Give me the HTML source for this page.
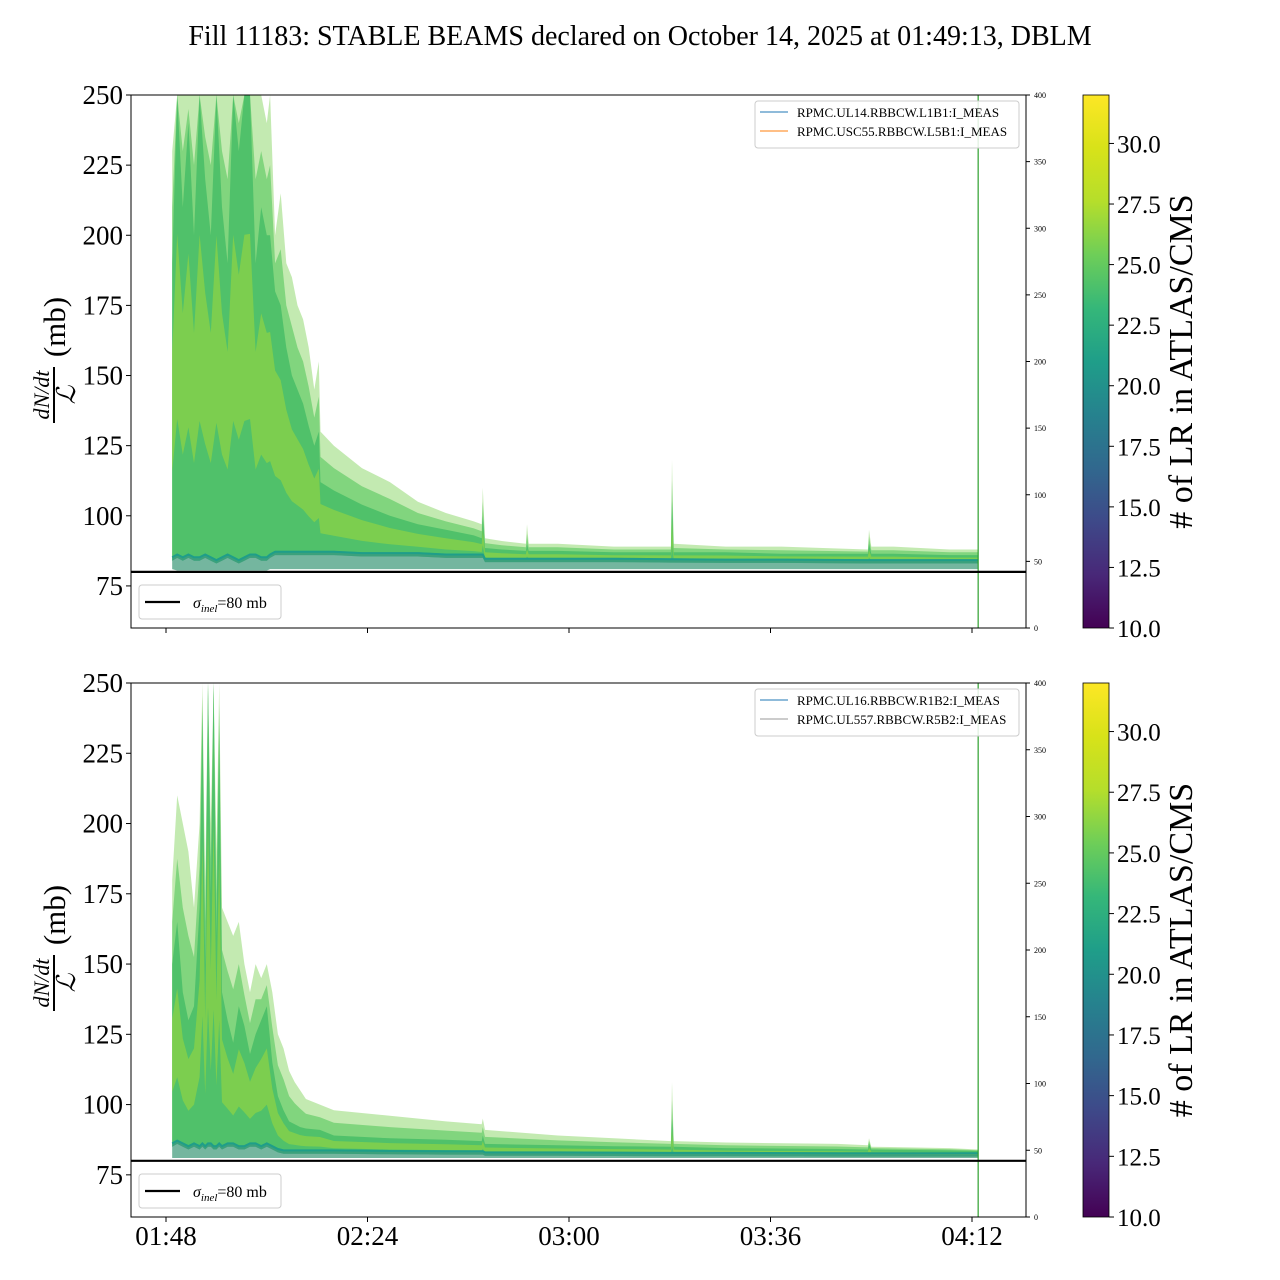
<!DOCTYPE html>
<html><head><meta charset="utf-8"><style>
html,body{margin:0;padding:0;background:#fff;}
svg{display:block;font-family:"Liberation Serif","DejaVu Serif",serif;}
</style></head><body>
<svg id="fig" width="1280" height="1280" viewBox="0 0 1280 1280" xmlns="http://www.w3.org/2000/svg">
<defs>
<linearGradient id="viridis" x1="0" y1="1" x2="0" y2="0">
<stop offset="0" stop-color="#440154"/><stop offset="0.1" stop-color="#482878"/><stop offset="0.2" stop-color="#3e4989"/><stop offset="0.3" stop-color="#31688e"/><stop offset="0.4" stop-color="#26828e"/><stop offset="0.5" stop-color="#1f9e89"/><stop offset="0.6" stop-color="#35b779"/><stop offset="0.7" stop-color="#6ece58"/><stop offset="0.8" stop-color="#b5de2b"/><stop offset="0.9" stop-color="#d8e219"/><stop offset="1" stop-color="#fde725"/>
</linearGradient>
</defs>
<text x="640" y="45" font-size="28" text-anchor="middle">Fill 11183: STABLE BEAMS declared on October 14, 2025 at 01:49:13, DBLM</text>
</svg>
<script>
// ---- data ----
const xTickLabels = ["01:48","02:24","03:00","03:36","04:12"];
const xTickMinutes = [0,36,72,108,144];
const yTicks = [75,100,125,150,175,200,225,250];
const rightTicks = [0,50,100,150,200,250,300,350,400];
const cbTicks = [10.0,12.5,15.0,17.5,20.0,22.5,25.0,27.5,30.0];
const sigmaInel = 80;
const stableMarkerMin = 145.1;

const tTop = [1.1,2,3,4,5,6,7,8,9,10,11,12,13,14,15,16,17,18,18.6,19.5,20.5,21.5,22.5,23.5,24.5,25.5,26.5,27.3,27.6,30,35,40,45,50,55,56.4,56.6,57,60,64.3,64.5,64.8,70,80,90.2,90.4,90.7,100,110,125.4,125.6,126,130,140,145.1];
const upTop = [230,250,250,250,250,250,250,250,250,250,250,250,250,250,250,250,250,240,250,200,215,190,185,175,170,160,145,155,130,125,117,112,105,101,98,97,110,92,91,90,97,90,90,89,89,120,90,89,89,88,95,89,89,88,88];
const hiTop = [190,250,210,240,200,250,220,200,250,210,190,250,230,250,250,190,210,200,200,180,175,160,150,145,140,132,125,130,112,109,104,100,97,95,93,92,100,88.5,88,87.5,90,87.5,87.5,87,87,105,87,87,86.5,86.5,90,86.5,86.5,86,86];
const loTop = [84,85,84,85,84,84,85,84,83,84,85,84,83,84,85,85,84,84,85,86,86,86,86,86,86,86,86,86,86,86,85.5,85.5,85.5,85,85,85,85,83.5,83.5,83.5,83.5,83.5,83.5,83.5,83.3,83.3,83.3,83.2,83.2,83,83,83,83,83,83];
const minTop = [81,80.5,80.5,80.5,80.5,80.5,80.5,80.5,80.5,80.5,80.5,80.5,80.5,80.5,80.5,80.5,80.5,80.5,81,81,81,81,81,81,81,81,81,81,81,81,81,81,81,81,81,81,81,81,81,81,81,81,81,81,81,81,81,81,81,81,81,81,81,81,81];

const tBot = [1.1,2,3,4,5,6,6.5,7,7.5,8,8.5,9,9.5,10,11,12,13,14,15,16,17,18,19,20,21,22,23,24,25,27.5,30,40,50,56.4,56.6,57,70,80,90.2,90.4,90.7,100,120,125.4,125.6,126,140,145.1];
const upBot = [180,210,200,190,170,200,250,180,250,200,250,190,250,170,165,160,165,150,140,150,145,150,140,125,120,112,108,105,102,100,98,96,94,93,95,91,89,88,87,108,87,86.5,86,85.5,88,85,84.5,84];
const hiBot = [150,165,140,130,135,170,240,150,250,175,250,160,235,140,130,122,135,128,118,125,130,135,115,103,98,94,93,92,91.5,91,89,88,87.5,87,89,86,85.5,85.2,85,95,85,84.5,84.2,84,86,84,83.7,83.5];
const loBot = [85,86,85,84,85,84,85,84,85,85,84,84,85,84,85,85,84,84,85,85,84,85,84,83,82.5,82.5,82.5,82.5,82.5,82.5,82.5,82.3,82.2,82.2,82.2,81.8,81.8,81.7,81.6,81.6,81.6,81.6,81.5,81.5,81.5,81.5,81.5,81.5];
const minBot = [81,81,81,81,81,81,81,81,81,81,81,81,81,81,81,81,81,81,81,81,81,81,81,81,81,81,81,81,81,81,81,81,81,81,81,81,81,81,81,81,81,81,81,81,81,81,81,81];

// ---- drawing ----
const NS = "http://www.w3.org/2000/svg";
const svg = document.getElementById("fig");
const AX_L = 131, AX_R = 1026;
const xOf = m => 166 + m * (201.5 / 36);
function mk(tag, attrs, parent) {
  const e = document.createElementNS(NS, tag);
  for (const k in attrs) e.setAttribute(k, attrs[k]);
  (parent || svg).appendChild(e);
  return e;
}
function bandPath(t, a, b, yOf) {
  let d = "";
  for (let i = 0; i < t.length; i++) d += (i ? "L" : "M") + xOf(t[i]).toFixed(1) + "," + yOf(a[i]).toFixed(1);
  for (let i = t.length - 1; i >= 0; i--) d += "L" + xOf(t[i]).toFixed(1) + "," + yOf(b[i]).toFixed(1);
  return d + "Z";
}
function linePath(t, a, yOf) {
  let d = "";
  for (let i = 0; i < t.length; i++) d += (i ? "L" : "M") + xOf(t[i]).toFixed(1) + "," + yOf(a[i]).toFixed(1);
  return d;
}

function drawPanel(top, bot, T, UP, HI, LO, MN, legendNames, legendColors, showXLabels, pid) {
  const yOf = v => top + (250 - v) * (bot - top) / 190;
  const g = mk("g", {});
  
  
  const clipId = "clip-" + pid;
  const cp = mk("clipPath", {id: clipId}, g);
  mk("rect", {x: AX_L, y: top, width: AX_R - AX_L, height: bot - top}, cp);
  const dg = mk("g", {"clip-path": "url(#" + clipId + ")"}, g);
  
  
  const outer = mk("path", {d: bandPath(T, UP, MN, yOf), fill: "#7ad151", "fill-opacity": "0.45"}, dg);
  
  
  const outer2 = mk("path", {d: bandPath(T, UP.map((u,i)=> (u+HI[i])/2), LO, yOf), fill: "#5ec962", "fill-opacity": "0.65"}, dg);
  
  
  const dense = mk("path", {d: bandPath(T, HI, LO, yOf), fill: "#4cbf68", "fill-opacity": "0.92"}, dg);
  
  
  const yel = mk("path", {d: bandPath(T, HI.map((h,i)=> LO[i] + (h-LO[i])*0.7), HI.map((h,i)=> LO[i] + (h-LO[i])*0.3), yOf), fill: "#a8db34", "fill-opacity": "0.5"}, dg);
  
  
  const lowband = mk("path", {d: bandPath(T, LO.map(v=>v+1.5), MN, yOf), fill: "#26828e", "fill-opacity": "0.5"}, dg);
  
  
  const med = mk("path", {d: linePath(T, LO.map(v=>v+1.2), yOf), fill: "none", stroke: "#1f9e89", "stroke-width": "2"}, dg);
  
  

  const vl = mk("line", {x1: xOf(stableMarkerMin), x2: xOf(stableMarkerMin), y1: top, y2: bot, stroke: "#2ca02c", "stroke-width": "1.2"}, g);
  
  
  const sl = mk("line", {x1: AX_L, x2: AX_R, y1: yOf(sigmaInel), y2: yOf(sigmaInel), stroke: "#000", "stroke-width": "2.2"}, g);
  
  
  const fr = mk("rect", {x: AX_L, y: top, width: AX_R - AX_L, height: bot - top, fill: "none", stroke: "#000", "stroke-width": "1"}, g);
  
  
  yTicks.forEach(v => {
    const y = yOf(v);
    mk("line", {x1: AX_L - 5, x2: AX_L, y1: y, y2: y, stroke: "#000"}, g);
    const tx = mk("text", {x: AX_L - 8, y: y + 9, "font-size": "27", "text-anchor": "end"}, g);
    tx.textContent = v;
    
    
  });
  rightTicks.forEach(v => {
    const y = bot - v * (bot - top) / 400;
    mk("line", {x1: AX_R, x2: AX_R + 4, y1: y, y2: y, stroke: "#000"}, g);
    const tx = mk("text", {x: AX_R + 8, y: y + 3, "font-size": "8"}, g);
    tx.textContent = v;
    
    
  });
  xTickMinutes.forEach((m, i) => {
    const x = xOf(m);
    mk("line", {x1: x, x2: x, y1: bot, y2: bot + 5, stroke: "#000"}, g);
    if (showXLabels) {
      const tx = mk("text", {x: x, y: bot + 28, "font-size": "27", "text-anchor": "middle"}, g);
      tx.textContent = xTickLabels[i];
      
      
    }
  });
  const yl = mk("g", {transform: "translate(55," + (top + 265) + ") rotate(-90)"}, g);
  
  
  const num = mk("text", {x: -35, y: -6, "font-size": "22", "font-style": "italic", "text-anchor": "middle"}, yl);
  num.textContent = "dN/dt";
  mk("line", {x1: -63, x2: -7, y1: -1, y2: -1, stroke: "#000", "stroke-width": "2"}, yl);
  const den = mk("text", {x: -35, y: 20, "font-size": "26", "font-style": "italic", "text-anchor": "middle"}, yl);
  den.textContent = "\u2112";
  const mb = mk("text", {x: 33, y: 10, "font-size": "31", "text-anchor": "middle"}, yl);
  mb.textContent = "(mb)";

  const lg = mk("g", {}, g);
  
  
  mk("rect", {x: 755, y: top + 6, width: 264, height: 47, rx: 3, fill: "#fff", "fill-opacity": "0.85", stroke: "#ccc"}, lg);
  legendNames.forEach((n, i) => {
    const y = top + 17 + i * 19;
    mk("line", {x1: 760, x2: 788, y1: y, y2: y, stroke: legendColors[i], "stroke-width": "1"}, lg);
    const tx = mk("text", {x: 797, y: y + 5, "font-size": "13"}, lg);
    tx.textContent = n;
    
    
  });
  const sg = mk("g", {}, g);
  
  
  mk("rect", {x: 139, y: bot - 43, width: 142, height: 34, rx: 3, fill: "#fff", stroke: "#ccc"}, sg);
  mk("line", {x1: 145, x2: 180, y1: bot - 26, y2: bot - 26, stroke: "#000", "stroke-width": "2.2"}, sg);
  const st = mk("text", {x: 193, y: bot - 20, "font-size": "16"}, sg);
  st.innerHTML = '<tspan font-style="italic">σ</tspan><tspan font-style="italic" font-size="11" dy="4">inel</tspan><tspan dy="-4">=80 mb</tspan>';

  const cb = mk("g", {}, g);
  
  
  mk("rect", {x: 1083, y: top, width: 26, height: bot - top, fill: "url(#viridis)", stroke: "#000", "stroke-width": "0.8"}, cb);
  cbTicks.forEach(v => {
    const y = bot - (v - 10) * (bot - top) / 22;
    mk("line", {x1: 1109, x2: 1114, y1: y, y2: y, stroke: "#000"}, cb);
    const tx = mk("text", {x: 1117, y: y + 9, "font-size": "25"}, cb);
    tx.textContent = v.toFixed(1);
    
    
  });
  const ct = mk("text", {transform: "translate(1192," + ((top + bot) / 2) + ") rotate(-90)", "font-size": "34", "text-anchor": "middle"}, cb);
  ct.textContent = "# of LR in ATLAS/CMS";
  
  
}

drawPanel(95, 628, tTop, upTop, hiTop, loTop, minTop,
  ["RPMC.UL14.RBBCW.L1B1:I_MEAS", "RPMC.USC55.RBBCW.L5B1:I_MEAS"], ["#1f77b4", "#ff7f0e"], false, "top");
drawPanel(683, 1217, tBot, upBot, hiBot, loBot, minBot,
  ["RPMC.UL16.RBBCW.R1B2:I_MEAS", "RPMC.UL557.RBBCW.R5B2:I_MEAS"], ["#1f77b4", "#999999"], true, "bottom");
</script>
</body></html>
